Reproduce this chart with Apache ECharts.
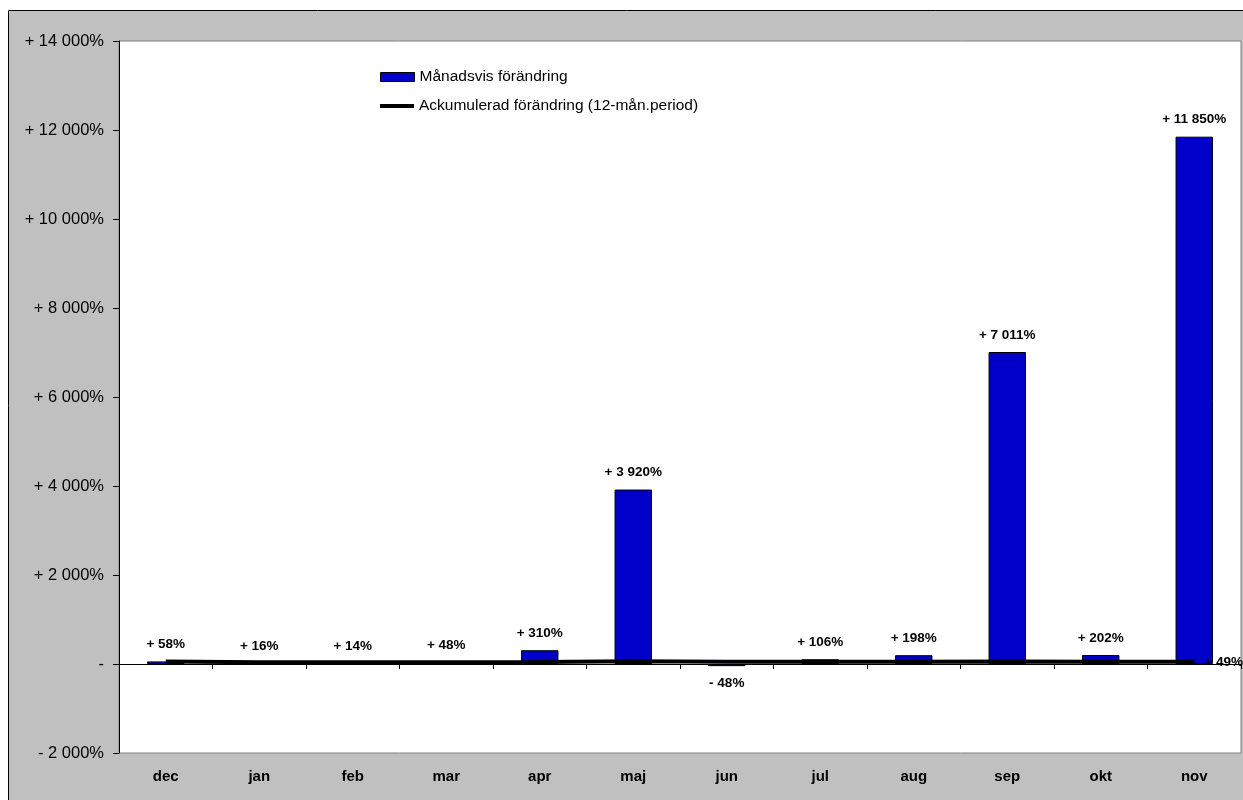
<!DOCTYPE html>
<html><head><meta charset="utf-8">
<script src="https://cdn.jsdelivr.net/npm/echarts@6/dist/echarts.min.js"></script>
<style>html,body{margin:0;padding:0;background:#fff}#c{width:1243px;height:800px}</style>
</head><body><div id="c"></div>
<script>
const categories = ['dec','jan','feb','mar','apr','maj','jun','jul','aug','sep','okt','nov'];
const monthlyChange = [58, 16, 14, 48, 310, 3920, -48, 106, 198, 7011, 202, 11850];
const accumulatedChange = [58, 42, 38, 40, 46, 60, 50, 48, 50, 55, 52, 49];
const seriesNames = ['Månadsvis förändring', 'Ackumulerad förändring (12-mån.period)'];

function fmt(v){
  if (v === 0) return '-';
  const a = Math.abs(v).toString().replace(/\B(?=(\d{3})+(?!\d))/g, ' ');
  return (v > 0 ? '+ ' : '- ') + a + '%';
}
const font = 'Liberation Sans, Arial, sans-serif';
const chart = echarts.init(document.getElementById('c'));
chart.setOption({
  animation: false,
  backgroundColor: '#fff',
  textStyle: {fontFamily: font},
  graphic: [{type:'rect', z:-10, shape:{x:8.5, y:10.5, width:1250, height:800}, style:{fill:'#C0C0C0', stroke:'#000', lineWidth:1}}],
  grid: {left:119, top:41, right:2, height:712, show:true, backgroundColor:'#fff', borderColor:'#808080', borderWidth:1},
  legend: [
    {data:[{name:seriesNames[0], icon:'rect'}], left:375, top:64, itemWidth:34, itemHeight:9, itemStyle:{borderColor:'#000', borderWidth:1},
     textStyle:{fontSize:15.5, fontFamily:font, color:'#000'}, itemGap:4},
    {data:[{name:seriesNames[1], icon:'rect'}], left:375, top:93, itemWidth:34, itemHeight:4, itemStyle:{color:'#000', borderWidth:0},
     textStyle:{fontSize:15.5, fontFamily:font, color:'#000'}, itemGap:4}
  ],
  xAxis: [
    {type:'category', data:categories, position:'bottom',
     axisLine:{onZero:true, lineStyle:{color:'#000', width:1}},
     axisTick:{show:true, length:5, inside:false, lineStyle:{color:'#000'}},
     axisLabel:{show:false}},
    {type:'category', data:categories, position:'bottom', gridIndex:0,
     axisLine:{show:false, onZero:false}, axisTick:{show:false},
     axisLabel:{show:true, margin:16, fontWeight:'bold', fontSize:15, color:'#000', fontFamily:font}}
  ],
  yAxis: {type:'value', min:-2000, max:14000, interval:2000,
    axisLine:{show:true, lineStyle:{color:'#000'}},
    axisTick:{show:true, length:6, lineStyle:{color:'#000'}},
    splitLine:{show:false},
    axisLabel:{formatter:fmt, fontSize:16.5, color:'#000', margin:15, fontFamily:font}},
  series: [
    {name:seriesNames[0], type:'bar', xAxisIndex:0,
     data: monthlyChange.map(v => v < 0 ? {value:v, label:{position:'bottom'}} : v),
     barWidth:'40%',
     itemStyle:{color:'#0000C8', borderColor:'#000', borderWidth:1},
     label:{show:true, position:'top', distance:10, formatter:p=>fmt(p.value), fontWeight:'bold', fontSize:13.5, color:'#000', fontFamily:font},
     z:2},
    {name:seriesNames[1], type:'line', xAxisIndex:0, data:accumulatedChange, symbol:'none',
     lineStyle:{color:'#000', width:4}, itemStyle:{color:'#000'},
     endLabel:{show:true, formatter:p=>fmt(p.value), fontWeight:'bold', fontSize:13.5, color:'#000', distance:10, fontFamily:font}, z:3}
  ]
});
</script></body></html>
